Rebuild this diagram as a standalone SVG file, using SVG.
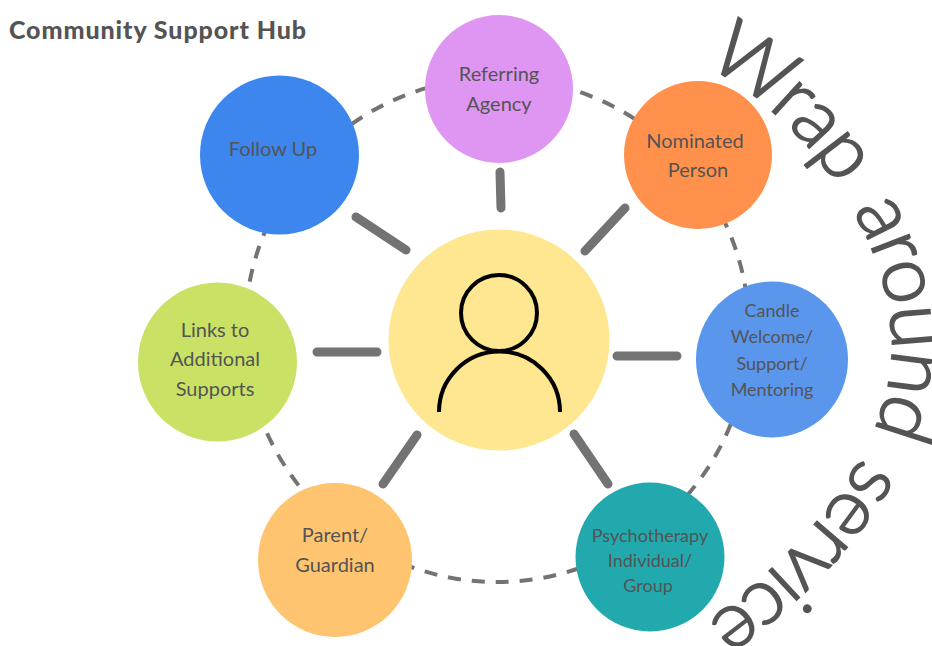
<svg xmlns="http://www.w3.org/2000/svg" width="932" height="646" viewBox="0 0 932 646">
<style>
text{font-family:"Lato","Open Sans",sans-serif;fill:#545454}
.l{font-size:20px;text-anchor:middle}
.s{font-size:18px;text-anchor:middle}
.t{font-size:25px;font-weight:900}
.c{font-size:80px;font-weight:300;letter-spacing:-2px;word-spacing:10px;stroke:#545454;stroke-width:1.800px}
.spoke{stroke:#737373;stroke-width:9;stroke-linecap:round;fill:none}
</style>
<defs><path id="arc" d="M704,66 C790,105 892,225 892,345 C892,445 812,560 650,660"/></defs>
<rect width="932" height="646" fill="#fff"/>
<text class="t" x="9" y="39" textLength="297">Community Support Hub</text>
<g id="connectors">
<circle cx="497" cy="330" r="252" fill="none" stroke="#737373" stroke-width="4" stroke-dasharray="13 11"/>
<path class="spoke" d="M500,172L501,208M585,251L625,208M617,356H677M574,434L608,484M417,435L383,484M317,352H377M356,217L406,250"/>
</g>
<g id="center"><circle cx="499" cy="340" r="110.500" fill="#FFE690"/>
<circle cx="499" cy="313" r="38" fill="none" stroke="#000" stroke-width="4"/>
<path d="M439,412A60.500,60.500 0 0 1 560,412" fill="none" stroke="#000" stroke-width="4"/></g>
<g id="referring"><circle cx="499" cy="89" r="74" fill="#DF96F2"/><text class="l" x="499" y="81">Referring</text><text class="l" x="499" y="111">Agency</text></g>
<g id="nominated"><circle cx="698" cy="155" r="74" fill="#FF914D"/><text class="l" x="695" y="148">Nominated</text><text class="l" x="698" y="177">Person</text></g>
<g id="candle"><ellipse cx="772" cy="359.500" rx="76" ry="78" fill="#5A96EC"/><text class="s" x="772" y="317">Candle</text><text class="s" x="772" y="343">Welcome/</text><text class="s" x="772" y="370">Support/</text><text class="s" x="772" y="396">Mentoring</text></g>
<g id="psychotherapy"><circle cx="650" cy="557" r="74.500" fill="#22A9AD"/><text class="s" x="650" y="542">Psychotherapy</text><text class="s" x="650" y="567">Individual/</text><text class="s" x="648" y="592">Group</text></g>
<g id="parent"><circle cx="335" cy="560" r="77" fill="#FFC46F"/><text class="l" x="335" y="542">Parent/</text><text class="l" x="335" y="572">Guardian</text></g>
<g id="links"><circle cx="217.500" cy="362" r="79.500" fill="#C9E265"/><text class="l" x="215" y="337">Links to</text><text class="l" x="215" y="366">Additional</text><text class="l" x="215" y="396">Supports</text></g>
<g id="followup"><circle cx="279.500" cy="155" r="79.500" fill="#3C86EE"/><text class="l" x="273" y="156">Follow Up</text></g>
<text class="c"><textPath href="#arc">Wrap around service</textPath></text>
</svg>
